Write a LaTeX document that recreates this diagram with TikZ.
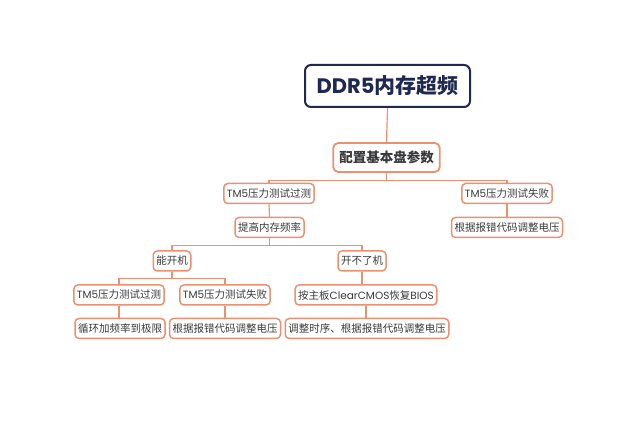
\documentclass[tikz,border=0pt]{standalone}
\usepackage{fontspec}
\setmainfont{Noto Sans CJK SC}
\newfontfamily\lat{Poppins}
\definecolor{edgeor}{HTML}{EC9170}
\definecolor{navy}{HTML}{1E2850}
\definecolor{txt}{HTML}{3A3A3A}
\begin{document}
\begin{tikzpicture}[x=1pt,y=-1pt,
  leaf/.style={draw=edgeor, line width=1.5pt, rounded corners=4pt, fill=white,
    text=txt, font=\fontsize{10.5}{12}\selectfont, inner xsep=3pt, inner ysep=0pt,
    minimum height=20pt, anchor=center},
  mid/.style={leaf, draw=edgeor, line width=1.8pt, font=\fontsize{13.5}{15}\bfseries\selectfont,
    minimum height=29pt, inner xsep=6pt, rounded corners=5pt},
  rootbox/.style={draw=navy, line width=2pt, rounded corners=6pt, fill=white,
    text=navy, font=\fontsize{21}{24}\bfseries\selectfont, minimum width=165pt,
    minimum height=42pt, anchor=center},
  conn/.style={draw=edgeor, line width=1.2pt}]
\useasboundingbox (0,0) rectangle (640,427);
\fill[white] (0,0) rectangle (640,427);

\node[rootbox] (root) at (387.5,86) {{\lat DDR5}内存超频};
\node[mid] (n1) at (386.5,157.5) {配置基本盘参数};

\node[leaf] (a) at (269,193.5) {{\lat TM5}压力测试过测};
\node[leaf] (b) at (507,193.5) {{\lat TM5}压力测试失败};
\node[leaf] (a1) at (269.5,227.5) {提高内存频率};
\node[leaf] (b1) at (507,227.5) {根据报错代码调整电压};

\node[leaf] (c) at (172,261) {能开机};
\node[leaf] (d) at (362,261) {开不了机};

\node[leaf] (c1) at (119,295) {{\lat TM5}压力测试过测};
\node[leaf] (c2) at (225,295) {{\lat TM5}压力测试失败};
\node[leaf] (d1) at (366,295) {按主板{\lat ClearCMOS}恢复{\lat BIOS}};

\node[leaf] (c1a) at (120,328.5) {循环加频率到极限};
\node[leaf] (c2a) at (225,328.5) {根据报错代码调整电压};
\node[leaf] (d1a) at (367,328.5) {调整时序、根据报错代码调整电压};

\begin{scope}[on background layer/.try]
\end{scope}
\draw[conn] (root.south) -- (n1.north);
\draw[conn] (n1.south) -- ++(0,8) coordinate (j1);
\draw[conn] (j1) -| (a.north);
\draw[conn] (j1) -| (b.north);
\draw[conn] (a.south) -- (a1.north);
\draw[conn] (b.south) -- (b1.north);
\draw[conn] (a1.south) -- ++(0,7) coordinate (j2);
\draw[conn] (j2) -| (c.north);
\draw[conn] (j2) -| (d.north);
\draw[conn] (c.south) -- ++(0,7) coordinate (j3);
\draw[conn] (j3) -| (c1.north);
\draw[conn] (j3) -| (c2.north);
\draw[conn] (d.south) -- (d.south |- d1.north);
\draw[conn] (c1.south) -- (c1.south |- c1a.north);
\draw[conn] (c2.south) -- (c2a.north);
\draw[conn] (d1.south) -- (d1.south |- d1a.north);
\end{tikzpicture}
\end{document}
